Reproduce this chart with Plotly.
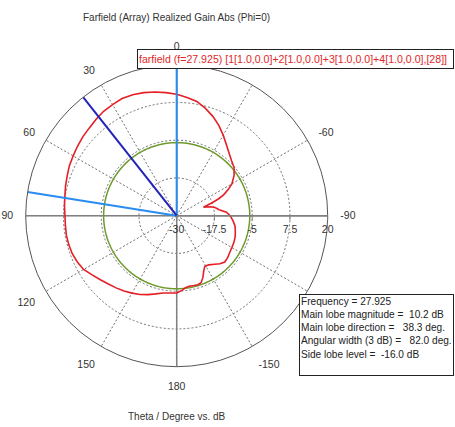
import plotly.graph_objects as go

# ---------------- data ----------------
theta_deg = [0, 5, 10, 15, 20, 25, 30, 35, 40, 45, 50, 55, 60, 65, 70, 75, 80, 85, 90,
             95, 100, 105, 110, 115, 120, 125, 130, 135, 140, 145, 150, 155, 160, 165,
             170, 175, 180]
gain_pos = [10.2, 10.9, 11.6, 12.2, 12.6, 12.8, 12.5, 12.2, 11.6, 11.0, 10.6, 10.1, 9.6,
            9.2, 8.6, 8.1, 7.6, 7.3, 7.0, 7.0, 7.1, 7.0, 6.8, 6.3, 5.6, 4.2, 3.0, 2.0,
            1.2, 0.4, -0.4, -1.2, -2.2, -3.2, -4.0, -4.3, -4.4]
theta_neg = [-5, -10, -15, -20, -25, -30, -35, -40, -45, -50, -55, -60, -63, -66, -68,
             -70, -72.5, -75, -78, -82, -86, -90, -95, -100, -105, -110, -115, -120,
             -125, -130, -134, -138, -142, -147, -151, -154, -157, -160, -163, -166,
             -170, -173, -176, -180]
gain_neg = [9.3, 8.4, 6.8, 5.0, 3.0, 0.8, -1.3, -3.0, -4.3, -5.2, -6.8, -8.9, -10.8,
            -13.0, -15.0, -17.5, -20.7, -18.5, -17.0, -15.8, -13.5, -12.3, -11.3, -10.4,
            -9.9, -9.4, -9.1, -8.9, -8.6, -8.1, -7.9, -8.6, -9.6, -10.6, -10.8, -9.6,
            -7.8, -6.4, -6.1, -6.2, -6.3, -6.0, -5.2, -4.4]

side_lobe_level = -5.8          # dB threshold circle
main_lobe_dir = 38.3            # deg
beam_edges = [0.0, 81.0]        # deg, 3 dB lines

r_ticks = [-30, -17.5, -5, 7.5, 20]
r_labels = ["-30", "-17.5", "-5", "7.5", "20"]
ang_ticks = [0, 30, 60, 90, 120, 150, 180, 210, 240, 270, 300, 330]
# -120 and -30 sit underneath the two text boxes in the reference, so they are not visible
ang_labels = ["0", "30", "60", "90", "120", "150", "180", "-150", "", "-90", "-60", ""]

title_text = "Farfield (Array) Realized Gain Abs (Phi=0)"
legend_text = "farfield (f=27.925) [1[1.0,0.0]+2[1.0,0.0]+3[1.0,0.0]+4[1.0,0.0],[28]]"
info_lines = ["Frequency = 27.925",
              "Main lobe magnitude =\u00a0\u00a010.2 dB",
              "Main lobe direction =\u00a0\u00a0\u00a038.3 deg.",
              "Angular width (3 dB) =\u00a0\u00a0\u00a082.0 deg.",
              "Side lobe level =\u00a0\u00a0-16.0 dB"]
xlabel = "Theta / Degree vs. dB"

# ---------------- layout geometry ----------------
W, H = 455, 427
cx, cy, R = 176.7, 215.7, 151.0
FONT = "Liberation Sans"
GRID_DASH = "2px,2px"

# full red curve, ordered by angle from -180 to 180
curve = sorted(zip(theta_neg + theta_deg, gain_neg + gain_pos))
th_all = [c[0] for c in curve]
g_all = [c[1] for c in curve]

fig = go.Figure()

rmin, rmax = r_ticks[0], r_ticks[-1]
# solid main axes
fig.add_trace(go.Scatterpolar(r=[rmax, rmin, rmax], theta=[0, 0, 180], mode="lines",
                              line=dict(color="#808080", width=1.5), hoverinfo="skip"))
fig.add_trace(go.Scatterpolar(r=[rmax, rmin, rmax], theta=[90, 90, 270], mode="lines",
                              line=dict(color="#808080", width=1.5), hoverinfo="skip"))
# side lobe level circle
circ_t = list(range(0, 361, 2))
fig.add_trace(go.Scatterpolar(r=[side_lobe_level] * len(circ_t), theta=circ_t, mode="lines",
                              line=dict(color="#6e9a2c", width=1.5), hoverinfo="skip"))
# pattern
fig.add_trace(go.Scatterpolar(r=g_all, theta=th_all, mode="lines",
                              line=dict(color="#e61e26", width=1.6), hoverinfo="skip"))
# beam edge lines
for b in beam_edges:
    fig.add_trace(go.Scatterpolar(r=[rmin, rmax], theta=[b, b], mode="lines",
                                  line=dict(color="#2a8cf0", width=2), hoverinfo="skip"))
# main lobe direction
fig.add_trace(go.Scatterpolar(r=[rmin, rmax], theta=[main_lobe_dir, main_lobe_dir], mode="lines",
                              line=dict(color="#2323b8", width=2), hoverinfo="skip"))

fig.update_layout(
    width=W, height=H,
    margin=dict(l=0, r=0, t=0, b=0),
    paper_bgcolor="white",
    showlegend=False,
    font=dict(family=FONT, size=10, color="#333333"),
    polar=dict(
        domain=dict(x=[(cx - R) / W, (cx + R) / W], y=[(H - cy - R) / H, (H - cy + R) / H]),
        bgcolor="white",
        radialaxis=dict(range=[rmin, rmax], tickvals=r_ticks, ticktext=r_labels,
                        angle=0, side="clockwise", tickangle=0,
                        showline=True, linecolor="#808080", linewidth=1.5,
                        ticks="outside", ticklen=4, tickcolor="#808080",
                        gridcolor="#707070", griddash=GRID_DASH, gridwidth=1,
                        tickfont=dict(size=10.5, color="#333333", family=FONT)),
        angularaxis=dict(rotation=90, direction="counterclockwise",
                         tickvals=ang_ticks, ticktext=ang_labels,
                         showline=True, linecolor="#555555", linewidth=1,
                         ticks="outside", ticklen=10, tickcolor="rgba(0,0,0,0)",
                         gridcolor="#707070", griddash=GRID_DASH, gridwidth=1,
                         tickfont=dict(size=10.5, color="#333333", family=FONT)),
    ),
    annotations=[
        dict(text=title_text, xref="paper", yref="paper", x=cx / W, y=1 - 17 / H,
             xanchor="center", yanchor="middle", showarrow=False,
             font=dict(size=10, color="#333333", family=FONT)),
        dict(text=legend_text, xref="paper", yref="paper", x=137 / W, y=1 - 49 / H,
             xanchor="left", yanchor="top", showarrow=False, align="left",
             width=313, height=16, borderpad=1, bgcolor="white",
             bordercolor="#222222", borderwidth=1,
             font=dict(size=10.6, color="#e02828", family=FONT)),
        dict(text="<br>".join(info_lines), xref="paper", yref="paper", x=299 / W, y=1 - 294 / H,
             xanchor="left", yanchor="top", showarrow=False, align="left", valign="top",
             width=151, height=78, borderpad=1, bgcolor="white",
             bordercolor="#222222", borderwidth=1,
             font=dict(size=10.1, color="#222222", family=FONT)),
        dict(text=xlabel, xref="paper", yref="paper", x=cx / W, y=1 - 416 / H,
             xanchor="center", yanchor="middle", showarrow=False,
             font=dict(size=10, color="#333333", family=FONT)),
    ],
)

fig.write_html("out.html", config={"displayModeBar": False},
               post_script="document.body.style.margin='0px';")
